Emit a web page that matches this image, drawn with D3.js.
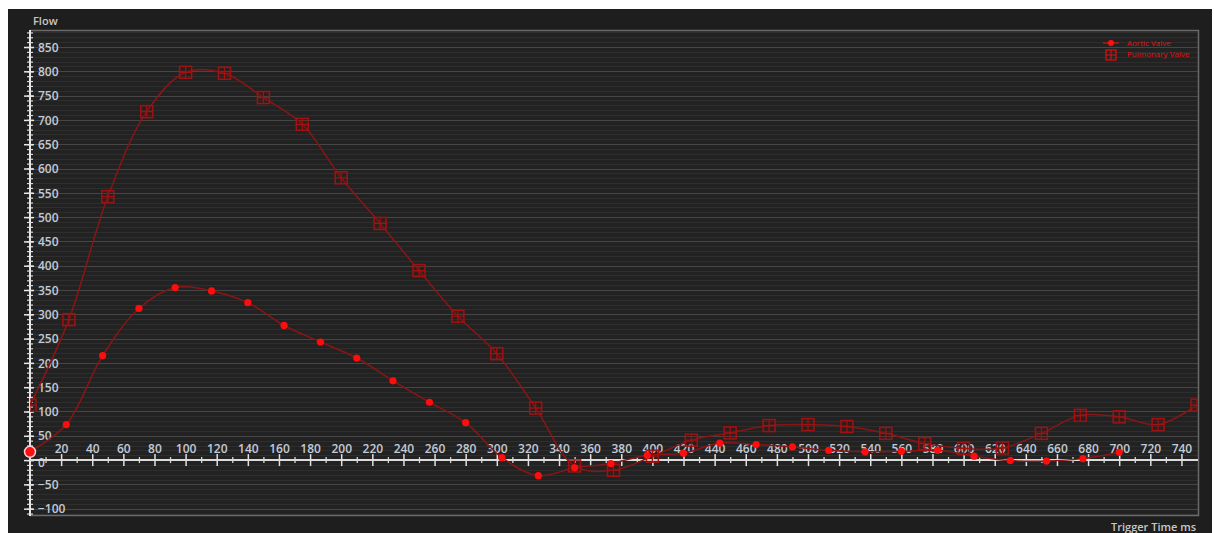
<!DOCTYPE html>
<html>
<head>
<meta charset="utf-8">
<script src="https://cdn.jsdelivr.net/npm/d3@7"></script>
<style>
  html, body { margin: 0; padding: 0; background: #ffffff; }
  svg { display: block; }
  text { font-family: "Open Sans", "DejaVu Sans", sans-serif; }
</style>
</head>
<body>
<svg id="chart" width="1214" height="533"></svg>
<script>
// Flow through the aortic and pulmonary valves over the trigger time (ms)
const aorticTimes = [0, 23.3, 46.7, 70, 93.3, 116.7, 140, 163.3, 186.7, 210, 233.3, 256.7, 280, 303.3, 326.7,
  350, 373.3, 396.7, 420, 443.3, 466.7, 490, 513.3, 536.7, 560, 583.3, 606.7, 630, 653.3, 676.7, 700];
const aorticFlow = [17, 73, 215, 312, 355, 348, 324, 277, 243, 210, 163, 119, 77, 5, -32,
  -16, -7, 10, 14, 35, 32, 27, 20, 17, 18, 20, 8, -1, -2, 3, 16];

const pulmonaryTimes = [0, 25, 50, 75, 100, 125, 150, 175, 200, 225, 250, 275, 300, 325, 350,
  375, 400, 425, 450, 475, 500, 525, 550, 575, 600, 625, 650, 675, 700, 725, 750];
const pulmonaryFlow = [113, 289, 542, 717, 798, 796, 746, 691, 581, 487, 390, 296, 219, 107, -12,
  -21, 8, 41, 56, 71, 73, 69, 55, 34, 24, 25, 55, 92, 89, 73, 113];

const xTickValues = [20, 40, 60, 80, 100, 120, 140, 160, 180, 200, 220, 240, 260, 280, 300, 320, 340, 360,
  380, 400, 420, 440, 460, 480, 500, 520, 540, 560, 580, 600, 620, 640, 660, 680, 700, 720, 740];
const yTickValues = [-100, -50, 0, 50, 100, 150, 200, 250, 300, 350, 400, 450, 500, 550, 600, 650, 700, 750, 800, 850];
const seriesNames = ["Aortic Valve", "Pulmonary Valve"];

const svg = d3.select("#chart");
const plot = { left: 30, right: 1198, top: 30, bottom: 515 };

const x = d3.scaleLinear().domain([0, 750]).range([plot.left, plot.right - 1]);
const y = d3.scaleLinear().domain([-113, 885]).range([plot.bottom, plot.top]);

// panel background
svg.append("rect").attr("x", 8).attr("y", 9).attr("width", 1204).attr("height", 524).attr("fill", "#1e1e1e");
svg.append("rect").attr("x", plot.left).attr("y", plot.top)
  .attr("width", plot.right - plot.left).attr("height", plot.bottom - plot.top).attr("fill", "#222222");

// horizontal grid: faint every 10, brighter every 50
const minorGrid = d3.range(-110, 881, 10);
svg.append("g").selectAll("line").data(minorGrid).join("line")
  .attr("x1", plot.left).attr("x2", plot.right)
  .attr("y1", d => Math.round(y(d)) + 0.5).attr("y2", d => Math.round(y(d)) + 0.5)
  .attr("stroke", d => d % 50 === 0 ? "#464646" : "#2e2e2e").attr("stroke-width", 1);

// plot border (top, right, bottom)
svg.append("path")
  .attr("d", `M${plot.left},${plot.top + 0.5}H${plot.right + 0.5}V${plot.bottom + 0.5}H${plot.left}`)
  .attr("fill", "none").attr("stroke", "#6a6a6a").attr("stroke-width", 1.5);

// y axis with dense minor ticks
const yAxisMinor = d3.axisLeft(y).tickValues(d3.range(-110, 881, 10)).tickSize(0).tickFormat("");
const gy = svg.append("g").attr("transform", `translate(${plot.left},0)`).call(yAxisMinor);
gy.select(".domain").remove();
gy.selectAll(".tick").append("line").attr("x1", -3).attr("x2", 3).attr("stroke", "#d8d8d8").attr("stroke-width", 1.2);
svg.append("line").attr("x1", plot.left).attr("x2", plot.left).attr("y1", plot.top).attr("y2", plot.bottom + 1)
  .attr("stroke", "#e6e6e6").attr("stroke-width", 2);

const yAxisMajor = d3.axisRight(y).tickValues(yTickValues).tickSize(0).tickPadding(8).tickFormat(d3.format("d"));
const gyMajor = svg.append("g").attr("transform", `translate(${plot.left},0)`).call(yAxisMajor);
gyMajor.select(".domain").remove();
gyMajor.selectAll(".tick").append("line").attr("x1", -6).attr("x2", 4).attr("stroke", "#e6e6e6").attr("stroke-width", 1.5);
gyMajor.selectAll(".tick text")
  .attr("fill", "#c3cad6").attr("font-size", 12).attr("font-weight", 600)
  .attr("font-family", "'Open Sans', sans-serif").attr("dy", "0.35em")
  .attr("y", d => d === 0 ? 2 : 0);

// x axis along zero flow
const y0 = y(0);
svg.append("line").attr("x1", plot.left).attr("x2", plot.right).attr("y1", y0).attr("y2", y0)
  .attr("stroke", "#dcdcdc").attr("stroke-width", 2);
const xMinor = d3.axisBottom(x).tickValues(d3.range(10, 750, 20)).tickSize(0).tickFormat("");
const gxMinor = svg.append("g").attr("transform", `translate(0,${y0})`).call(xMinor);
gxMinor.select(".domain").remove();
gxMinor.selectAll(".tick").append("line").attr("y1", -3).attr("y2", 3).attr("stroke", "#d8d8d8").attr("stroke-width", 1.3);

const xMajor = d3.axisTop(x).tickValues(xTickValues).tickSize(0).tickPadding(7).tickFormat(d3.format("d"));
const gx = svg.append("g").attr("transform", `translate(0,${y0})`).call(xMajor);
gx.select(".domain").remove();
gx.selectAll(".tick").append("line").attr("y1", -6).attr("y2", 6).attr("stroke", "#e0e0e0").attr("stroke-width", 1.5);
gx.selectAll(".tick text")
  .attr("fill", "#c3cad6").attr("font-size", 12).attr("font-weight", 600)
  .attr("font-family", "'Open Sans', sans-serif");

// axis titles
svg.append("text").attr("x", 33).attr("y", 25).text("Flow")
  .attr("fill", "#c8c8c8").attr("font-size", 11).attr("font-weight", 600);
svg.append("text").attr("x", 1196).attr("y", 531).attr("text-anchor", "end").text("Trigger Time ms")
  .attr("fill", "#c8c8c8").attr("font-size", 11).attr("font-weight", 600);

// series
svg.append("clipPath").attr("id", "plotClip").append("rect")
  .attr("x", plot.left).attr("y", plot.top).attr("width", plot.right - plot.left).attr("height", plot.bottom - plot.top);
const layer = svg.append("g").attr("clip-path", "url(#plotClip)");

const aortic = aorticTimes.map((t, i) => ({ t, v: aorticFlow[i] }));
const pulmonary = pulmonaryTimes.map((t, i) => ({ t, v: pulmonaryFlow[i] }));

const line = d3.line().x(d => x(d.t)).y(d => y(d.v)).curve(d3.curveCatmullRom.alpha(0.5));
const lineColor = "#8a1515";
const squareColor = "#a01212";
const dotColor = "#ff0c0c";

layer.append("path").datum(pulmonary).attr("d", line)
  .attr("fill", "none").attr("stroke", lineColor).attr("stroke-width", 1.5);
layer.append("path").datum(aortic).attr("d", line)
  .attr("fill", "none").attr("stroke", lineColor).attr("stroke-width", 1.5);

// pulmonary markers: square with a cross
const sq = 6;
const pm = layer.append("g").selectAll("g").data(pulmonary).join("g")
  .attr("transform", d => `translate(${x(d.t)},${y(d.v)})`);
pm.append("rect").attr("x", -sq).attr("y", -sq).attr("width", 2 * sq).attr("height", 2 * sq)
  .attr("fill", "rgba(120,10,10,0.15)").attr("stroke", squareColor).attr("stroke-width", 1.5);
pm.append("path").attr("d", `M${-sq},0H${sq}M0,${-sq}V${sq}`)
  .attr("stroke", squareColor).attr("stroke-width", 1.2);

// aortic markers: filled dots
layer.append("g").selectAll("circle").data(aortic.slice(1)).join("circle")
  .attr("cx", d => x(d.t)).attr("cy", d => y(d.v)).attr("r", 3.6).attr("fill", dotColor);
// highlighted first sample
svg.append("circle").attr("cx", x(aortic[0].t)).attr("cy", y(aortic[0].v)).attr("r", 5.5)
  .attr("fill", "#ff1010").attr("stroke", "#ffd0d0").attr("stroke-width", 1.5);

// legend
const legend = svg.append("g").attr("transform", "translate(1103,43)");
legend.append("line").attr("x1", 0).attr("x2", 16).attr("y1", 0).attr("y2", 0).attr("stroke", "#e01010").attr("stroke-width", 1.2);
legend.append("circle").attr("cx", 8).attr("cy", 0).attr("r", 3).attr("fill", "#ff1010");
legend.append("rect").attr("x", 3).attr("y", 7).attr("width", 10).attr("height", 10)
  .attr("fill", "none").attr("stroke", "#e01010").attr("stroke-width", 1.2);
legend.append("path").attr("d", "M3,12H13M8,7V17").attr("stroke", "#e01010").attr("stroke-width", 1);
legend.selectAll("text.lbl").data(seriesNames).join("text").attr("class", "lbl")
  .attr("x", 24).attr("y", (d, i) => i * 11 + 3).text(d => d)
  .attr("fill", "#e01414").attr("font-size", 8);
</script>
</body>
</html>
